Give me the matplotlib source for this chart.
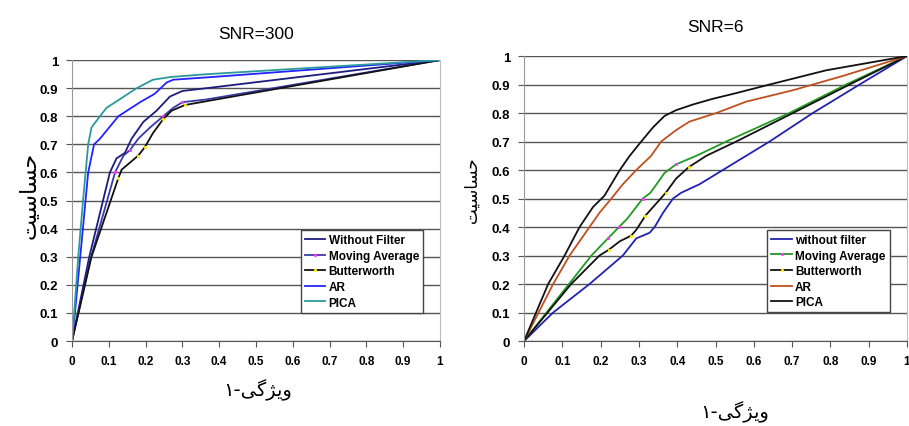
import matplotlib.pyplot as plt

# ---- data: SNR=300 (left) ----
l_nf_x = [0, 0.047, 0.103, 0.121, 0.144, 0.162, 0.194, 0.23, 0.266, 0.30, 0.366, 1]
l_nf_y = [0, 0.30, 0.60, 0.65, 0.67, 0.72, 0.78, 0.82, 0.87, 0.89, 0.90, 1]
l_ma_x = [0, 0.05, 0.117, 0.14, 0.158, 0.18, 0.212, 0.248, 0.275, 0.30, 0.366, 1]
l_ma_y = [0, 0.29, 0.60, 0.66, 0.68, 0.72, 0.76, 0.80, 0.83, 0.85, 0.86, 1]
l_bw_x = [0, 0.053, 0.126, 0.135, 0.153, 0.18, 0.198, 0.22, 0.248, 0.271, 0.307, 0.393, 1]
l_bw_y = [0, 0.30, 0.58, 0.61, 0.63, 0.66, 0.69, 0.74, 0.79, 0.82, 0.84, 0.86, 1]
l_ar_x = [0, 0.008, 0.044, 0.06, 0.076, 0.126, 0.185, 0.225, 0.257, 0.275, 0.384, 1]
l_ar_y = [0, 0.10, 0.60, 0.70, 0.72, 0.80, 0.85, 0.88, 0.92, 0.93, 0.94, 1]
l_pica_x = [0, 0.006, 0.017, 0.03, 0.044, 0.053, 0.076, 0.094, 0.176, 0.22, 0.27, 0.37, 1]
l_pica_y = [0, 0.10, 0.30, 0.50, 0.70, 0.76, 0.80, 0.83, 0.90, 0.93, 0.94, 0.95, 1]

# ---- data: SNR=6 (right) ----
r_nf_x = [0, 0.076, 0.171, 0.258, 0.293, 0.328, 0.341, 0.363, 0.389, 0.41, 0.458, 0.519, 0.641, 0.754, 0.876, 1]
r_nf_y = [0, 0.10, 0.20, 0.30, 0.36, 0.38, 0.40, 0.45, 0.50, 0.52, 0.55, 0.60, 0.70, 0.80, 0.90, 1]
r_ma_x = [0, 0.176, 0.219, 0.248, 0.27, 0.31, 0.33, 0.367, 0.397, 0.45, 0.528, 0.693, 0.841, 1]
r_ma_y = [0, 0.30, 0.36, 0.40, 0.43, 0.50, 0.52, 0.59, 0.62, 0.65, 0.70, 0.80, 0.90, 1]
r_bw_x = [0, 0.123, 0.197, 0.221, 0.25, 0.28, 0.293, 0.317, 0.37, 0.397, 0.43, 0.476, 0.554, 0.702, 0.85, 1]
r_bw_y = [0, 0.20, 0.30, 0.32, 0.35, 0.37, 0.39, 0.44, 0.52, 0.57, 0.61, 0.65, 0.70, 0.80, 0.90, 1]
r_ar_x = [0, 0.076, 0.119, 0.171, 0.197, 0.228, 0.258, 0.293, 0.332, 0.358, 0.397, 0.432, 0.502, 0.58, 0.702, 0.832, 1]
r_ar_y = [0, 0.20, 0.30, 0.40, 0.45, 0.50, 0.55, 0.60, 0.65, 0.70, 0.74, 0.77, 0.80, 0.84, 0.88, 0.93, 1]
r_pica_x = [0, 0.063, 0.106, 0.145, 0.18, 0.21, 0.25, 0.276, 0.306, 0.337, 0.367, 0.397, 0.441, 0.493, 0.554, 0.641, 0.789, 1]
r_pica_y = [0, 0.20, 0.30, 0.40, 0.47, 0.51, 0.60, 0.65, 0.70, 0.75, 0.79, 0.81, 0.83, 0.85, 0.87, 0.90, 0.95, 1]

ticks = [0, 0.1, 0.2, 0.3, 0.4, 0.5, 0.6, 0.7, 0.8, 0.9, 1]
tick_labels = ['0', '0.1', '0.2', '0.3', '0.4', '0.5', '0.6', '0.7', '0.8', '0.9', '1']

# Persian labels, pre-shaped (presentation forms, visual order)
ylab = '\uFE96\uFBFF\uFEB3\uFE8E\uFEB4\uFEA3'      # حساسیت
xlab = '\u06F1-\uFBFD\uFB94\uFB8B\uFBFE\uFEED'      # ویژگی-۱

plt.rcParams['font.family'] = ['Liberation Sans', 'DejaVu Sans']

fig = plt.figure(figsize=(9.09, 4.27), dpi=100)
ax1 = fig.add_axes([0.0792, 0.199, 0.4048, 0.658])
ax2 = fig.add_axes([0.5765, 0.199, 0.4213, 0.6674])


def style(ax):
    ax.set_xlim(0, 1)
    ax.set_ylim(0, 1)
    ax.set_xticks(ticks)
    ax.set_yticks(ticks)
    ax.set_xticklabels(tick_labels, fontweight='bold', fontsize=8.5)
    ax.set_yticklabels(tick_labels, fontweight='bold', fontsize=9.5)
    ax.grid(axis='y', color='#555555', linewidth=1.0)
    ax.set_axisbelow(True)
    ax.spines['top'].set_visible(False)
    ax.spines['right'].set_color('#bbbbbb')
    ax.spines['left'].set_color('#999999')
    ax.spines['bottom'].set_color('#555555')
    ax.tick_params(length=4, color='#555555', pad=6)


def add_legend(ax):
    ax.legend(loc='lower right', bbox_to_anchor=(0.97, 0.08),
              prop={'weight': 'bold', 'size': 8.5},
              fancybox=False, edgecolor='#444444', framealpha=1, handlelength=1.7,
              borderpad=0.35, labelspacing=0.3, handletextpad=0.3)


# left chart
ax1.plot(l_nf_x, l_nf_y, color='#1c1c80', lw=1.3, label='Without Filter')
ax1.plot(l_ma_x, l_ma_y, color='#3a3aa8', lw=1.3, label='Moving Average',
         marker='.', ms=2.5, mfc='#ff33ff', mec='#ff33ff', markevery=[2, 4, 7, 9])
ax1.plot(l_bw_x, l_bw_y, color='#111111', lw=1.3, label='Butterworth',
         marker='.', ms=2.5, mfc='#ffee00', mec='#ffee00', markevery=[2, 5, 6, 8, 10])
ax1.plot(l_ar_x, l_ar_y, color='#2323ff', lw=1.3, label='AR')
ax1.plot(l_pica_x, l_pica_y, color='#2a9a9a', lw=1.3, label='PICA')
style(ax1)
ax1.set_title('SNR=300', fontsize=12.5, pad=16)
add_legend(ax1)

# right chart
ax2.plot(r_nf_x, r_nf_y, color='#2222b0', lw=1.3, label='without filter')
ax2.plot(r_ma_x, r_ma_y, color='#229922', lw=1.3, label='Moving Average',
         marker='.', ms=2.5, mfc='#ff33ff', mec='#ff33ff', markevery=[2, 3, 5, 8])
ax2.plot(r_bw_x, r_bw_y, color='#111111', lw=1.3, label='Butterworth',
         marker='.', ms=2.5, mfc='#ffee00', mec='#ffee00', markevery=[3, 5, 7, 8, 10])
ax2.plot(r_ar_x, r_ar_y, color='#c0501f', lw=1.3, label='AR')
ax2.plot(r_pica_x, r_pica_y, color='#111111', lw=1.3, label='PICA')
style(ax2)
ax2.set_title('SNR=6', fontsize=12.5, pad=18)
add_legend(ax2)

# Persian axis labels
fig.text(30 / 909, 1 - 195 / 427, ylab, rotation=90, ha='center', va='center',
         fontsize=16, family=['DejaVu Sans'])
fig.text(472 / 909, 1 - 190 / 427, ylab, rotation=90, ha='center', va='center',
         fontsize=12, family=['DejaVu Sans'])
fig.text(258 / 909, 1 - 390 / 427, xlab, ha='center', va='center',
         fontsize=14, family=['DejaVu Sans'])
fig.text(735 / 909, 1 - 412 / 427, xlab, ha='center', va='center',
         fontsize=14, family=['DejaVu Sans'])

fig.savefig('out.png', dpi=100)
